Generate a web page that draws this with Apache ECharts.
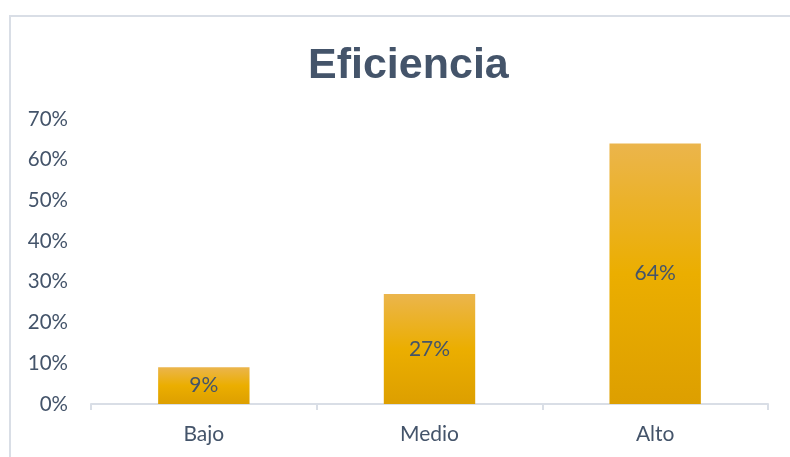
<!DOCTYPE html>
<html><head><meta charset="utf-8">
<script src="https://cdn.jsdelivr.net/npm/echarts@6/dist/echarts.min.js"></script>
<style>html,body{margin:0;padding:0;background:#fff}#c{width:790px;height:457px}</style>
</head><body><div id="c"></div>
<script>
const categories = ['Bajo', 'Medio', 'Alto'];
const values = [9, 27, 64];
const yTicks = {min: 0, max: 70, interval: 10};
const titleText = 'Eficiencia';

const chart = echarts.init(document.getElementById('c'), null, {renderer: 'canvas'});
const txt = '#44546A';
const font = 'Lato, "Open Sans", sans-serif';
chart.setOption({
  animation: false,
  backgroundColor: '#fff',
  graphic: [{type: 'rect', shape: {x: 10, y: 16, width: 800, height: 460}, style: {fill: 'none', stroke: '#D9DEE6', lineWidth: 2}, silent: true}],
  title: {text: titleText, left: 303, top: 40, textStyle: {fontFamily: '"Liberation Sans", Arial, sans-serif', fontWeight: 'bold', fontSize: 43, color: txt}},
  grid: {left: 91, right: 22, top: 119, bottom: 53},
  xAxis: {type: 'category', data: categories,
    axisLine: {lineStyle: {color: '#D9DEE6', width: 2}},
    axisTick: {show: true, alignWithLabel: false, length: 6, lineStyle: {color: '#D9DEE6', width: 2}},
    axisLabel: {color: txt, fontSize: 21, fontFamily: font, margin: 20}},
  yAxis: {type: 'value', min: yTicks.min, max: yTicks.max, interval: yTicks.interval,
    splitLine: {show: false}, axisLine: {show: false}, axisTick: {show: false},
    axisLabel: {formatter: '{value}%', color: txt, fontSize: 20.5, fontFamily: font, margin: 23}},
  series: [{type: 'bar', data: values, barWidth: '40.5%',
    itemStyle: {color: new echarts.graphic.LinearGradient(0, 0, 0, 1, [
      {offset: 0, color: '#EBB54C'}, {offset: 0.5, color: '#EBAE00'}, {offset: 1, color: '#DD9F00'}])},
    label: {show: true, position: 'inside', formatter: '{c}%', color: txt, fontSize: 21, fontFamily: font}}]
});
</script></body></html>
